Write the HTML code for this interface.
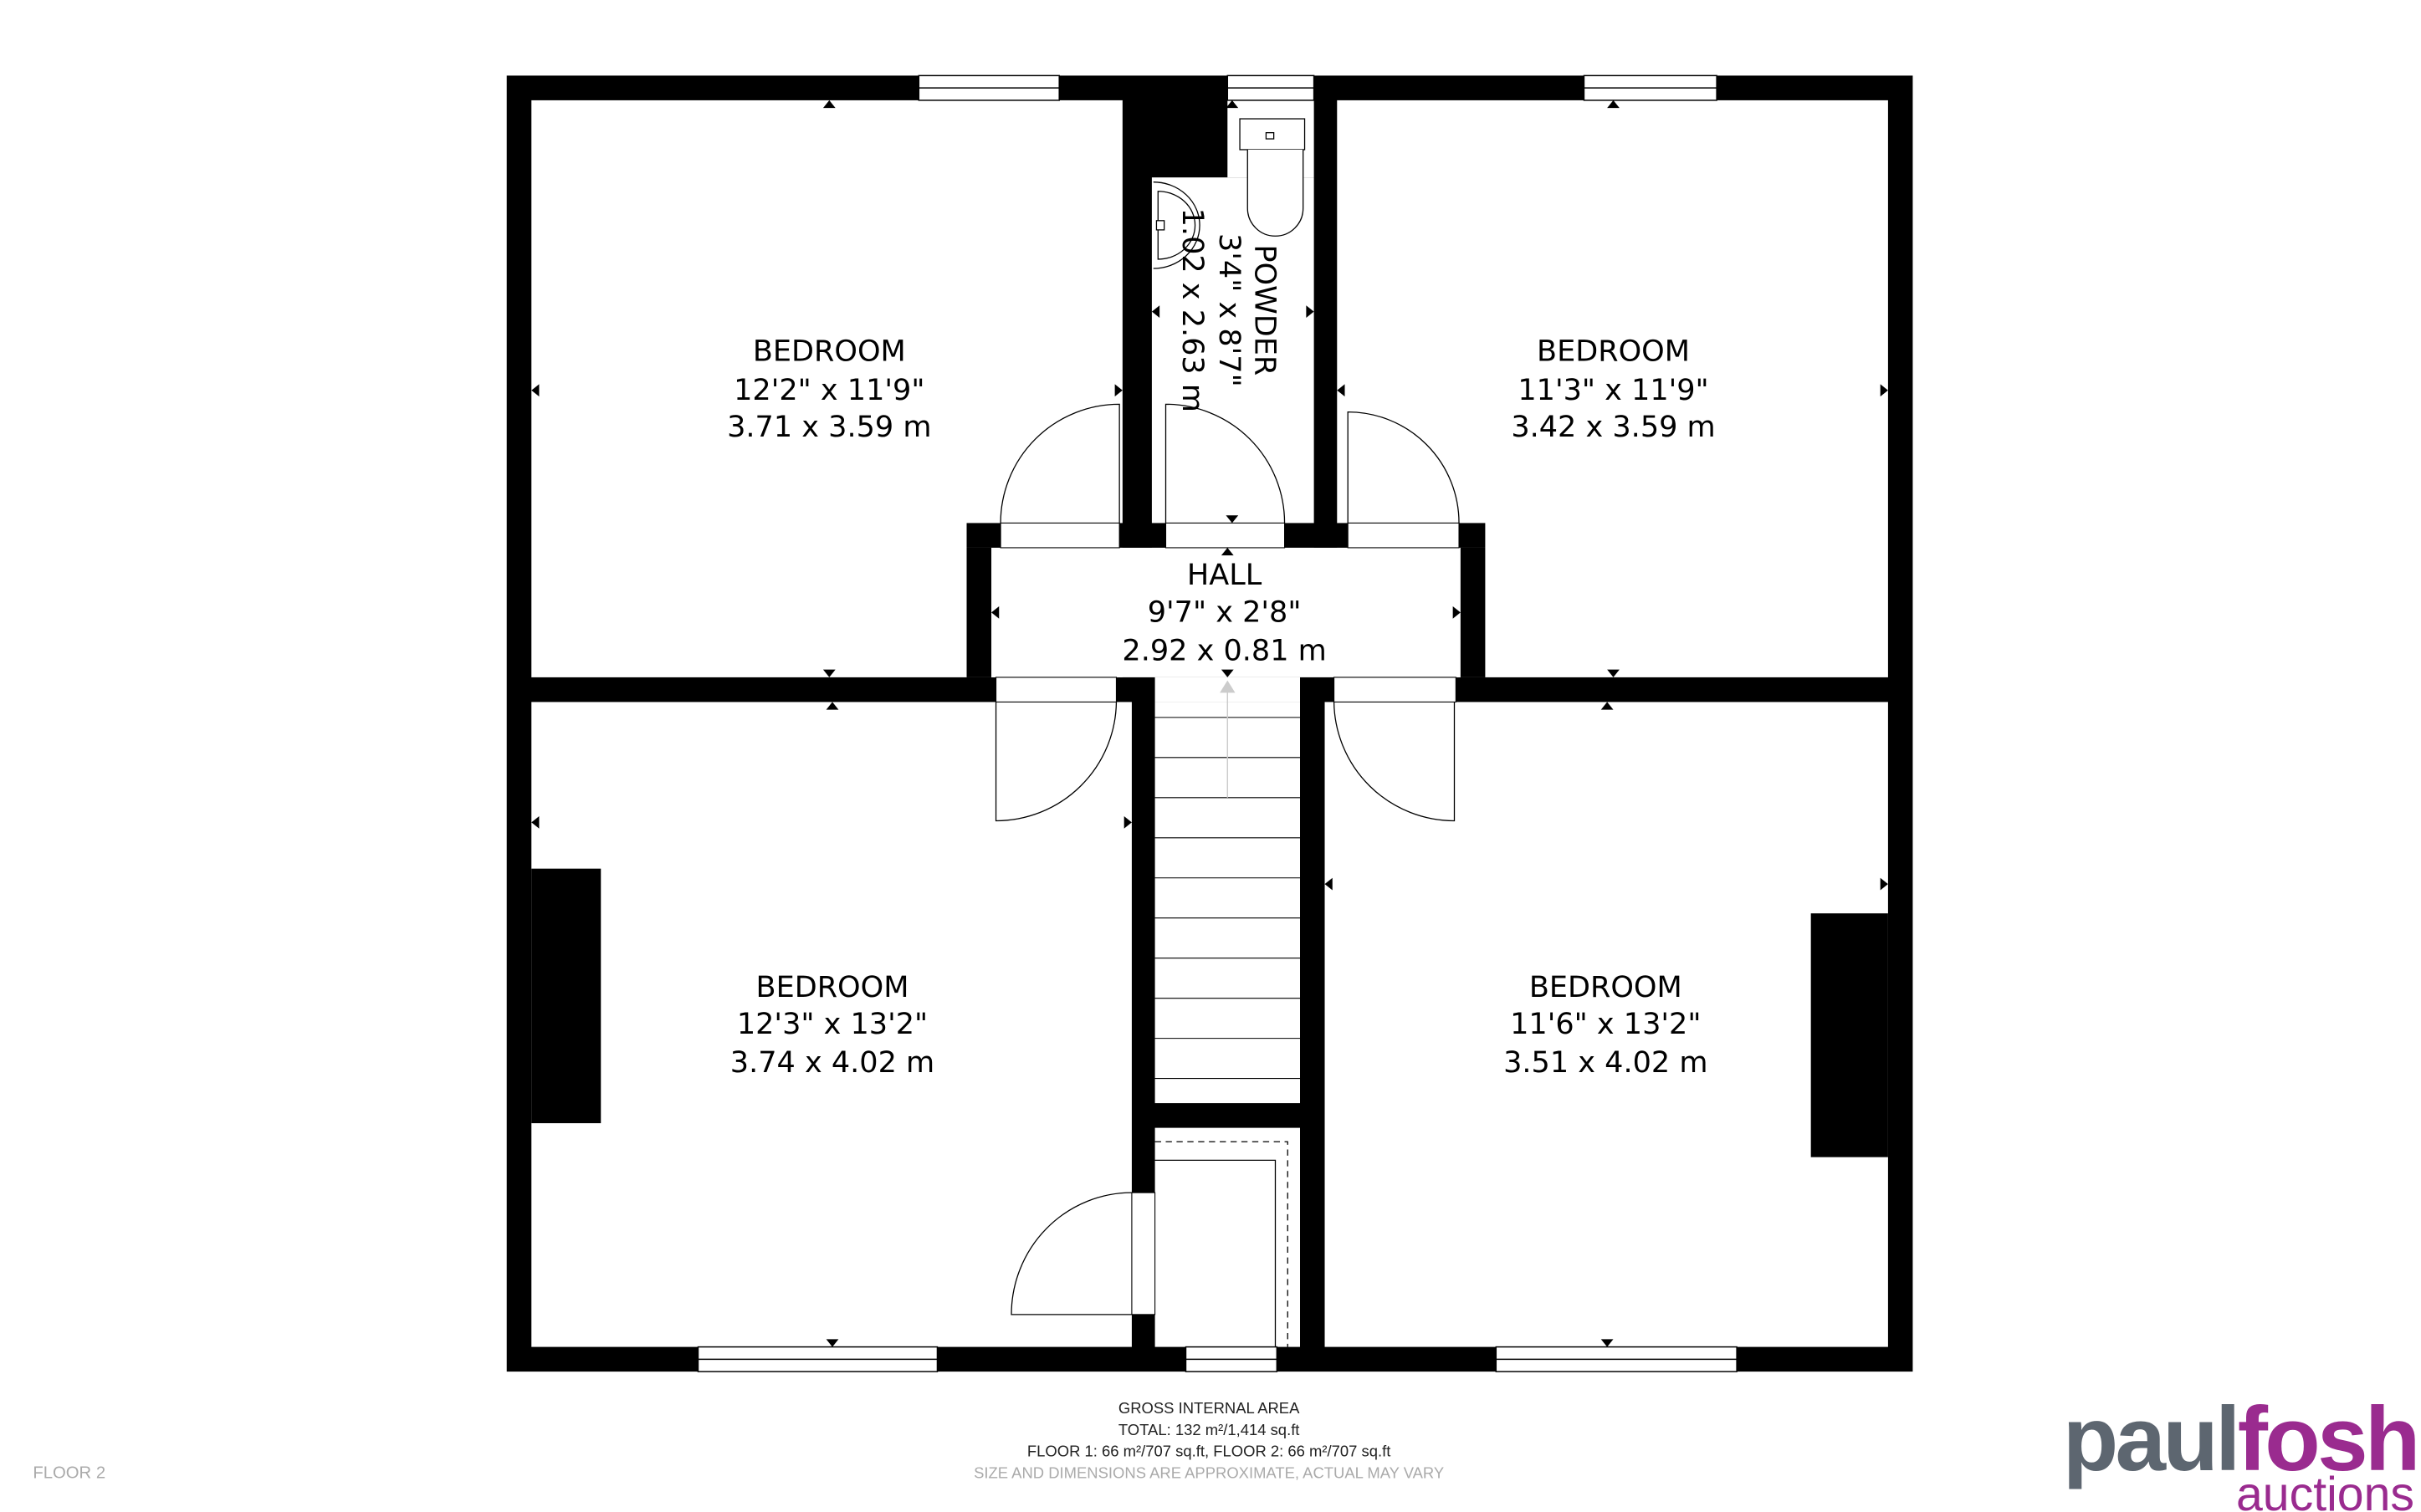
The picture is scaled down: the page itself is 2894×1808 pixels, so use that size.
<!DOCTYPE html>
<html><head><meta charset="utf-8"><style>html,body{margin:0;padding:0;background:#fff}svg{display:block}</style></head>
<body>
<svg width="2894" height="1808" viewBox="0 0 1568 980" xmlns="http://www.w3.org/2000/svg" font-family="'DejaVu Sans','Liberation Sans',sans-serif">
<rect width="1568" height="980" fill="#fff"/>
<rect x="328" y="49" width="911" height="840" fill="#000"/>
<rect x="344" y="65" width="383" height="374" fill="#fff"/>
<rect x="866" y="65" width="357" height="374" fill="#fff"/>
<rect x="795" y="65" width="56" height="50" fill="#fff"/>
<rect x="746" y="115" width="105" height="240" fill="#fff"/>
<rect x="642" y="355" width="304" height="84" fill="#fff"/>
<rect x="344" y="455" width="389" height="418" fill="#fff"/>
<rect x="858" y="455" width="365" height="418" fill="#fff"/>
<rect x="748" y="455" width="94" height="260" fill="#fff"/>
<rect x="748" y="731" width="94" height="142" fill="#fff"/>
<rect x="626" y="339" width="336" height="16" fill="#000"/>
<rect x="626" y="355" width="16" height="84" fill="#000"/>
<rect x="946" y="355" width="16" height="84" fill="#000"/>
<rect x="648" y="339" width="77" height="16" fill="#fff" stroke="#000" stroke-width="0.6"/>
<rect x="755" y="339" width="77" height="16" fill="#fff" stroke="#000" stroke-width="0.6"/>
<rect x="873" y="339" width="72" height="16" fill="#fff" stroke="#000" stroke-width="0.6"/>
<rect x="645" y="439" width="78" height="16" fill="#fff" stroke="#000" stroke-width="0.6"/>
<rect x="748" y="439" width="94" height="16" fill="#fff"/>
<rect x="864" y="439" width="79" height="16" fill="#fff" stroke="#000" stroke-width="0.6"/>
<rect x="344" y="563" width="45" height="165" fill="#000"/>
<rect x="1173" y="592" width="50" height="158" fill="#000"/>
<g fill="#fff" stroke="#000" stroke-width="0.8">
<rect x="595" y="49" width="91" height="16"/><line x1="595" y1="57" x2="686" y2="57"/>
<rect x="795" y="49" width="56" height="16"/><line x1="795" y1="57" x2="851" y2="57"/>
<rect x="1026" y="49" width="86" height="16"/><line x1="1026" y1="57" x2="1112" y2="57"/>
<rect x="452" y="873" width="155" height="16"/><line x1="452" y1="881" x2="607" y2="881"/>
<rect x="768" y="873" width="59" height="16"/><line x1="768" y1="881" x2="827" y2="881"/>
<rect x="969" y="873" width="156" height="16"/><line x1="969" y1="881" x2="1125" y2="881"/>
</g>
<g stroke="#000" stroke-width="0.6">
<line x1="748" y1="491" x2="842" y2="491"/><line x1="748" y1="517" x2="842" y2="517"/>
<line x1="748" y1="543" x2="842" y2="543"/><line x1="748" y1="569" x2="842" y2="569"/>
<line x1="748" y1="595" x2="842" y2="595"/><line x1="748" y1="621" x2="842" y2="621"/>
<line x1="748" y1="647" x2="842" y2="647"/><line x1="748" y1="673" x2="842" y2="673"/>
<line x1="748" y1="699" x2="842" y2="699"/>
<line x1="748" y1="465" x2="842" y2="465"/>
</g>
<line x1="795" y1="517" x2="795" y2="448" stroke="#ccc" stroke-width="0.8"/>
<polygon points="795,441 790,449 800,449" fill="#ccc"/>
<path d="M748,740 H834 V873" fill="none" stroke="#000" stroke-width="0.7" stroke-dasharray="4,3"/>
<path d="M748,752 H826 V873" fill="none" stroke="#000" stroke-width="0.7"/>
<rect x="733" y="773" width="15" height="79" fill="#fff" stroke="#000" stroke-width="0.6"/>
<g fill="none" stroke="#000" stroke-width="0.7">
<path d="M725,339 V262 A77,77 0 0 0 648,339"/>
<path d="M755,339 V262 A77,77 0 0 1 832,339"/>
<path d="M873,339 V267 A72,72 0 0 1 945,339"/>
<path d="M645,455 V532 A78,78 0 0 0 723,455"/>
<path d="M942,455 V532 A78,78 0 0 1 864,455"/>
<path d="M733,852 H655 A78,79 0 0 1 733,773"/>
</g>
<g fill="#fff" stroke="#000" stroke-width="0.7">
<rect x="803" y="77" width="42" height="20"/>
<path d="M808,97 V135 A18,18 0 0 0 844,135 V97"/>
<rect x="820" y="86" width="5" height="4"/>
<path d="M747,118 A30,28 0 0 1 747,174"/>
<path d="M750,124 A24,22 0 0 1 750,168 Z"/>
<rect x="749" y="143" width="5" height="6"/>
</g>
<g fill="#000">
<polygon points="537,65 533,70 541,70"/><polygon points="537,439 533,434 541,434"/>
<polygon points="344,253 349,249 349,257"/><polygon points="727,253 722,249 722,257"/>
<polygon points="1045,65 1041,70 1049,70"/><polygon points="1045,439 1041,434 1049,434"/>
<polygon points="866,253 871,249 871,257"/><polygon points="1223,253 1218,249 1218,257"/>
<polygon points="539,455 535,460 543,460"/><polygon points="539,873 535,868 543,868"/>
<polygon points="344,533 349,529 349,537"/><polygon points="733,533 728,529 728,537"/>
<polygon points="1041,455 1037,460 1045,460"/><polygon points="1041,873 1037,868 1045,868"/>
<polygon points="858,573 863,569 863,577"/><polygon points="1223,573 1218,569 1218,577"/>
<polygon points="795,355 791,360 799,360"/><polygon points="795,439 791,434 799,434"/>
<polygon points="642,397 647,393 647,401"/><polygon points="946,397 941,393 941,401"/>
<polygon points="798,339 794,334 802,334"/><polygon points="798,65 794,70 802,70"/>
<polygon points="746,202 751,198 751,206"/><polygon points="851,202 846,198 846,206"/>
</g>
<g font-size="19" text-anchor="middle" fill="#000">
<text x="537" y="234">BEDROOM</text><text x="537" y="259">12'2" x 11'9"</text><text x="537" y="283">3.71 x 3.59 m</text>
<text x="1045" y="234">BEDROOM</text><text x="1045" y="259">11'3" x 11'9"</text><text x="1045" y="283">3.42 x 3.59 m</text>
<text x="539" y="646">BEDROOM</text><text x="539" y="670">12'3" x 13'2"</text><text x="539" y="695">3.74 x 4.02 m</text>
<text x="1040" y="646">BEDROOM</text><text x="1040" y="670">11'6" x 13'2"</text><text x="1040" y="695">3.51 x 4.02 m</text>
<text x="793" y="379">HALL</text><text x="793" y="403">9'7" x 2'8"</text><text x="793" y="428">2.92 x 0.81 m</text>
<g transform="translate(797,201) rotate(90)">
<text x="0" y="-16">POWDER</text><text x="0" y="7">3'4" x 8'7"</text><text x="0" y="31">1.02 x 2.63 m</text>
</g>
</g>
<g font-size="10" text-anchor="middle" fill="#222" font-family="'Liberation Sans',sans-serif">
<text x="783" y="916">GROSS INTERNAL AREA</text>
<text x="783" y="930">TOTAL: 132 m²/1,414 sq.ft</text>
<text x="783" y="944">FLOOR 1: 66 m²/707 sq.ft, FLOOR 2: 66 m²/707 sq.ft</text>
<text x="783" y="958" fill="#aaa">SIZE AND DIMENSIONS ARE APPROXIMATE, ACTUAL MAY VARY</text>
</g>
<text x="21" y="958" font-size="11" fill="#aaa" font-family="'Liberation Sans',sans-serif">FLOOR 2</text>
<text x="1566" y="953" text-anchor="end" font-size="59" font-weight="bold" font-family="'Liberation Sans',sans-serif" letter-spacing="-2"><tspan fill="#5d6670">paul</tspan><tspan fill="#9a2b8f">fosh</tspan></text>
<text x="1564" y="979" text-anchor="end" font-size="31" fill="#9a2b8f" font-family="'Liberation Sans',sans-serif">auctions</text>
</svg>
</body></html>
